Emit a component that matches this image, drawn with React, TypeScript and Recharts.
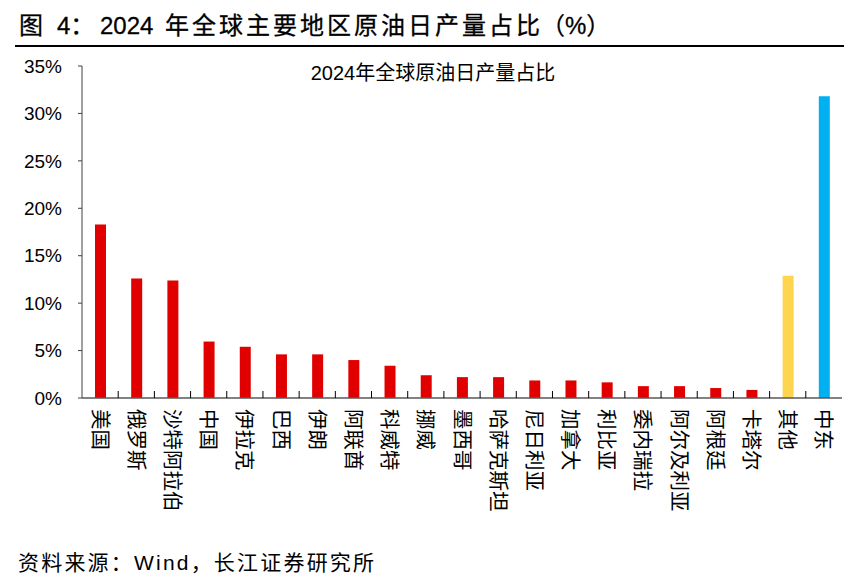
import React from 'react';
import { BarChart, Bar, XAxis, YAxis, Cell } from 'recharts';

const regions = ['美国', '俄罗斯', '沙特阿拉伯', '中国', '伊拉克', '巴西', '伊朗', '阿联酋', '科威特', '挪威', '墨西哥', '哈萨克斯坦', '尼日利亚', '加拿大', '利比亚', '委内瑞拉', '阿尔及利亚', '阿根廷', '卡塔尔', '其他', '中东'];
const shares = [18.3, 12.6, 12.4, 5.95, 5.4, 4.6, 4.6, 4.0, 3.4, 2.4, 2.2, 2.2, 1.85, 1.85, 1.65, 1.25, 1.25, 1.05, 0.85, 12.9, 31.8];
const yTicks = [0, 5, 10, 15, 20, 25, 30, 35];

const data = regions.map((name, i) => ({ name, value: shares[i] }));

const W = 864;
const H = 578;
const PLOT_LEFT = 82;
const PLOT_RIGHT = 842;
const BAND = (PLOT_RIGHT - PLOT_LEFT) / regions.length;

const barColor = (name: string) => {
    if (name === '其他') return '#FFD44F';
    if (name === '中东') return '#00B0F0';
    return '#E00000';
};

const font = 'Arial, "Liberation Sans", "Noto Sans CJK SC", sans-serif';

const XTick = (props: any) => {
    const { x, y, payload, index } = props;
    return (
        <g>
            {index > 0 && (
                <line x1={x - BAND / 2} x2={x - BAND / 2} y1={y} y2={y - 7} stroke="#000" strokeWidth={1} />
            )}
            <text
                transform={`translate(${x},${y + 11}) rotate(90)`}
                textAnchor="start"
                dominantBaseline="central"
                fontSize={20.5}
                fontFamily={font}
                fill="#000"
            >
                {payload.value}
            </text>
        </g>
    );
};

const titleBit = (text: string, left: number, spacing = 0) => (
    <span style={{ position: 'absolute', left, top: 0, letterSpacing: spacing }}>{text}</span>
);

export default function App() {
    return (
        <div style={{ position: 'absolute', left: 0, top: 0, width: W, height: H, background: '#fff', fontFamily: font }}>
            <div style={{ position: 'absolute', left: 0, top: 10, width: W, height: 32, fontSize: 24, color: '#000', whiteSpace: 'nowrap', lineHeight: '32px', WebkitTextStroke: '0.3px #000' }}>
                {titleBit('图', 19)}
                {titleBit('4：', 57)}
                {titleBit('2024', 100)}
                {titleBit('年全球主要地区原油日产量占比', 165, 3)}
                {titleBit('（%）', 541)}
            </div>
            <div style={{ position: 'absolute', left: 15, top: 45, width: 829, height: 2, background: '#000' }} />
            <div style={{ position: 'absolute', left: 0, width: 866, top: 60, textAlign: 'center', fontSize: 20, color: '#000', lineHeight: '26px' }}>
                2024年全球原油日产量占比
            </div>
            <div style={{ position: 'absolute', left: 18, top: 548, fontSize: 21, color: '#000', whiteSpace: 'nowrap', lineHeight: '30px', letterSpacing: 2.2 }}>
                资料来源：Wind，长江证券研究所
            </div>
            <div style={{ position: 'absolute', left: 0, top: 0 }}>
                <BarChart width={W} height={H} data={data} margin={{ top: 66, right: W - PLOT_RIGHT, left: 20, bottom: 60 }}>
                    <XAxis
                        dataKey="name"
                        interval={0}
                        tickLine={false}
                        tickSize={0}
                        tickMargin={0}
                        height={120}
                        axisLine={{ stroke: '#595959', strokeWidth: 1.5 }}
                        tick={<XTick />}
                    />
                    <YAxis
                        width={PLOT_LEFT - 20}
                        domain={[0, 35]}
                        ticks={yTicks}
                        tickFormatter={(v: number) => `${v}%`}
                        tickSize={4}
                        tickMargin={16}
                        axisLine={{ stroke: '#404040' }}
                        tickLine={{ stroke: '#404040' }}
                        tick={{ fontSize: 19, fill: '#000', fontFamily: font }}
                    />
                    <Bar dataKey="value" barSize={11} isAnimationActive={false}>
                        {data.map((d) => (
                            <Cell key={d.name} fill={barColor(d.name)} />
                        ))}
                    </Bar>
                </BarChart>
            </div>
        </div>
    );
}
